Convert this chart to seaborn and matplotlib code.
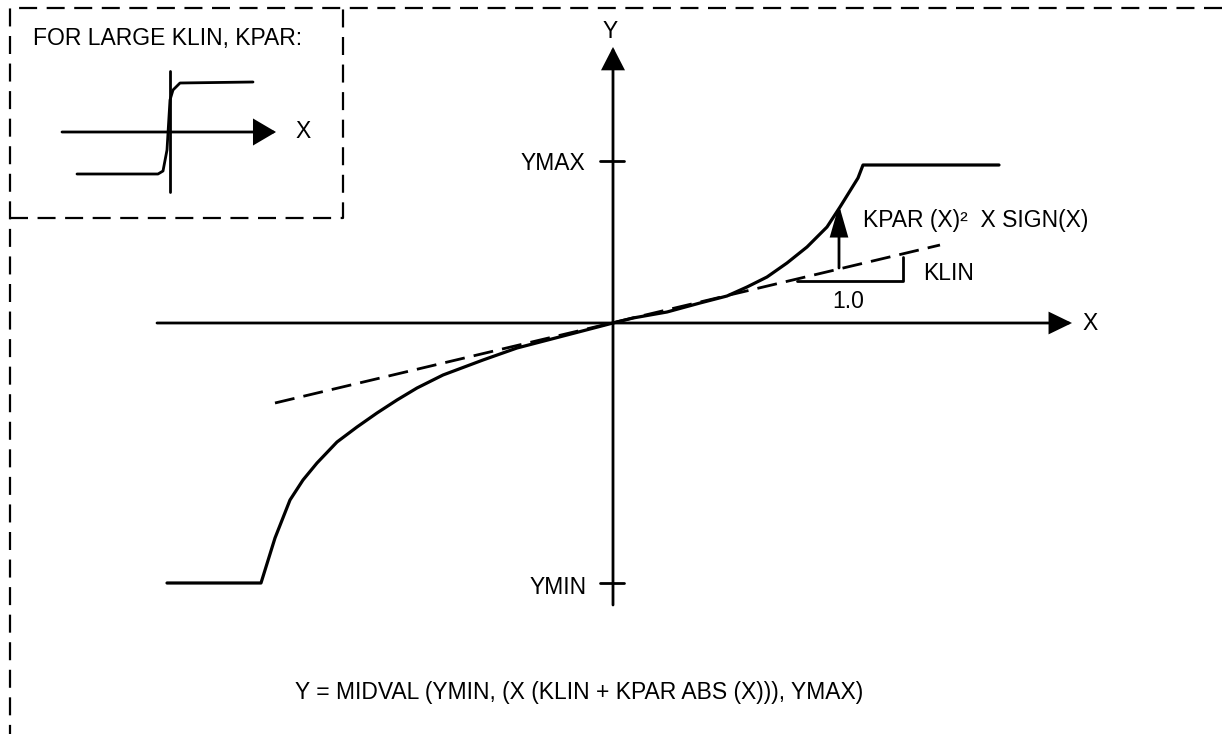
import matplotlib
matplotlib.use("Agg")
import matplotlib.pyplot as plt
import seaborn as sns
import numpy as np
import pandas as pd

# ---- data (diagram units: pixels relative to the axes crossing, y up) ----
curve_x = [-446, -352, -338, -323, -310, -296, -276, -256, -236, -216, -196, -170, -130,
           -96, -46, 0, 20, 54, 87, 114, 134, 154, 174, 194, 214, 227, 245, 250, 386]
curve_y = [-260, -260, -215, -177, -157, -140, -119, -104, -90, -77, -65, -52, -37,
           -25, -12, 0, 5, 11, 20, 27, 36, 46, 60, 76, 96, 116, 145, 158, 158]
klin_x = [-338, 327]
klin_y = [-80, 78]
inset_x = [-536, -455, -450, -446, -445, -443, -440, -433, -360]
inset_y = [149, 149, 152, 173, 190, 223, 233, 240, 241]
ymax_level = 162
ymin_level = -260

sns.set_theme(style="white")
plt.rcParams["font.family"] = ["Liberation Sans", "DejaVu Sans"]

fig = plt.figure(figsize=(12.22, 7.34), dpi=100)
ax = fig.add_axes([0, 0, 1, 1])
ax.set_xlim(-613, 609)
ax.set_ylim(-411, 323)
ax.axis("off")

K = "black"
FS = 16.5

# main curve and linear (dashed) component
sns.lineplot(x=curve_x, y=curve_y, sort=False, estimator=None, color=K, lw=2.3, ax=ax,
             legend=False, solid_joinstyle="round")
sns.lineplot(x=klin_x, y=klin_y, sort=False, estimator=None, color=K, lw=2.0, ax=ax,
             legend=False, linestyle=(0, (7.2, 3.3)))

# axes with arrows
def arrow(x0, y0, x1, y1, hl, hw, lw=2.0):
    ax.annotate("", xy=(x1, y1), xytext=(x0, y0),
                arrowprops=dict(arrowstyle=f"-|>,head_length={hl},head_width={hw}",
                                mutation_scale=20, lw=lw, color=K, shrinkA=0, shrinkB=0,
                                joinstyle="miter"))

arrow(-456, 0, 459, 0, 0.68, 0.33)
arrow(0, -282, 0, 276, 0.68, 0.35)
ax.text(469, 0, "X", fontsize=FS, ha="left", va="center", color=K)
ax.text(-3, 292, "Y", fontsize=FS, ha="center", va="center", color=K)

# ticks
ax.plot([-13, 11], [ymax_level, ymax_level], color=K, lw=2.0)
ax.plot([-13, 11], [ymin_level, ymin_level], color=K, lw=2.0)
ax.text(-28, 159, "YMAX", fontsize=FS, ha="right", va="center", color=K)
ax.text(-26, -264, "YMIN", fontsize=FS, ha="right", va="center", color=K)

# KLIN slope triangle
ax.plot([184, 290, 290], [42, 42, 66], color=K, lw=2.0)
ax.text(310, 50, "KLIN", fontsize=FS, ha="left", va="center", color=K)
ax.text(235, 22, "1.0", fontsize=FS, ha="center", va="center", color=K)

# KPAR arrow
arrow(226, 55, 226, 118, 0.94, 0.27)
ax.text(250, 103, "KPAR (X)²  X SIGN(X)", fontsize=FS, ha="left", va="center", color=K)

# formula
ax.text(-318, -370, "Y = MIDVAL (YMIN, (X (KLIN + KPAR ABS (X))), YMAX)",
        fontsize=FS, ha="left", va="center", color=K)

# dashed frame and inset box
dash = (0, (8.1, 4.3))
ax.plot([609, -603, -603], [315, 315, -411], color=K, lw=1.6, linestyle=dash)
ax.plot([-603, -270, -270], [105, 105, 315], color=K, lw=1.6, linestyle=dash)

# inset
ax.text(-580, 285, "FOR LARGE KLIN, KPAR:", fontsize=FS, ha="left", va="center", color=K)
arrow(-551, 191, -337, 191, 0.68, 0.4)
ax.plot([-443, -443], [131, 252], color=K, lw=2.0)
sns.lineplot(x=inset_x, y=inset_y, sort=False, estimator=None, color=K, lw=2.0, ax=ax,
             legend=False, solid_joinstyle="round")
ax.text(-318, 191, "X", fontsize=FS, ha="left", va="center", color=K)

fig.savefig("out.png", dpi=100, facecolor="white")
